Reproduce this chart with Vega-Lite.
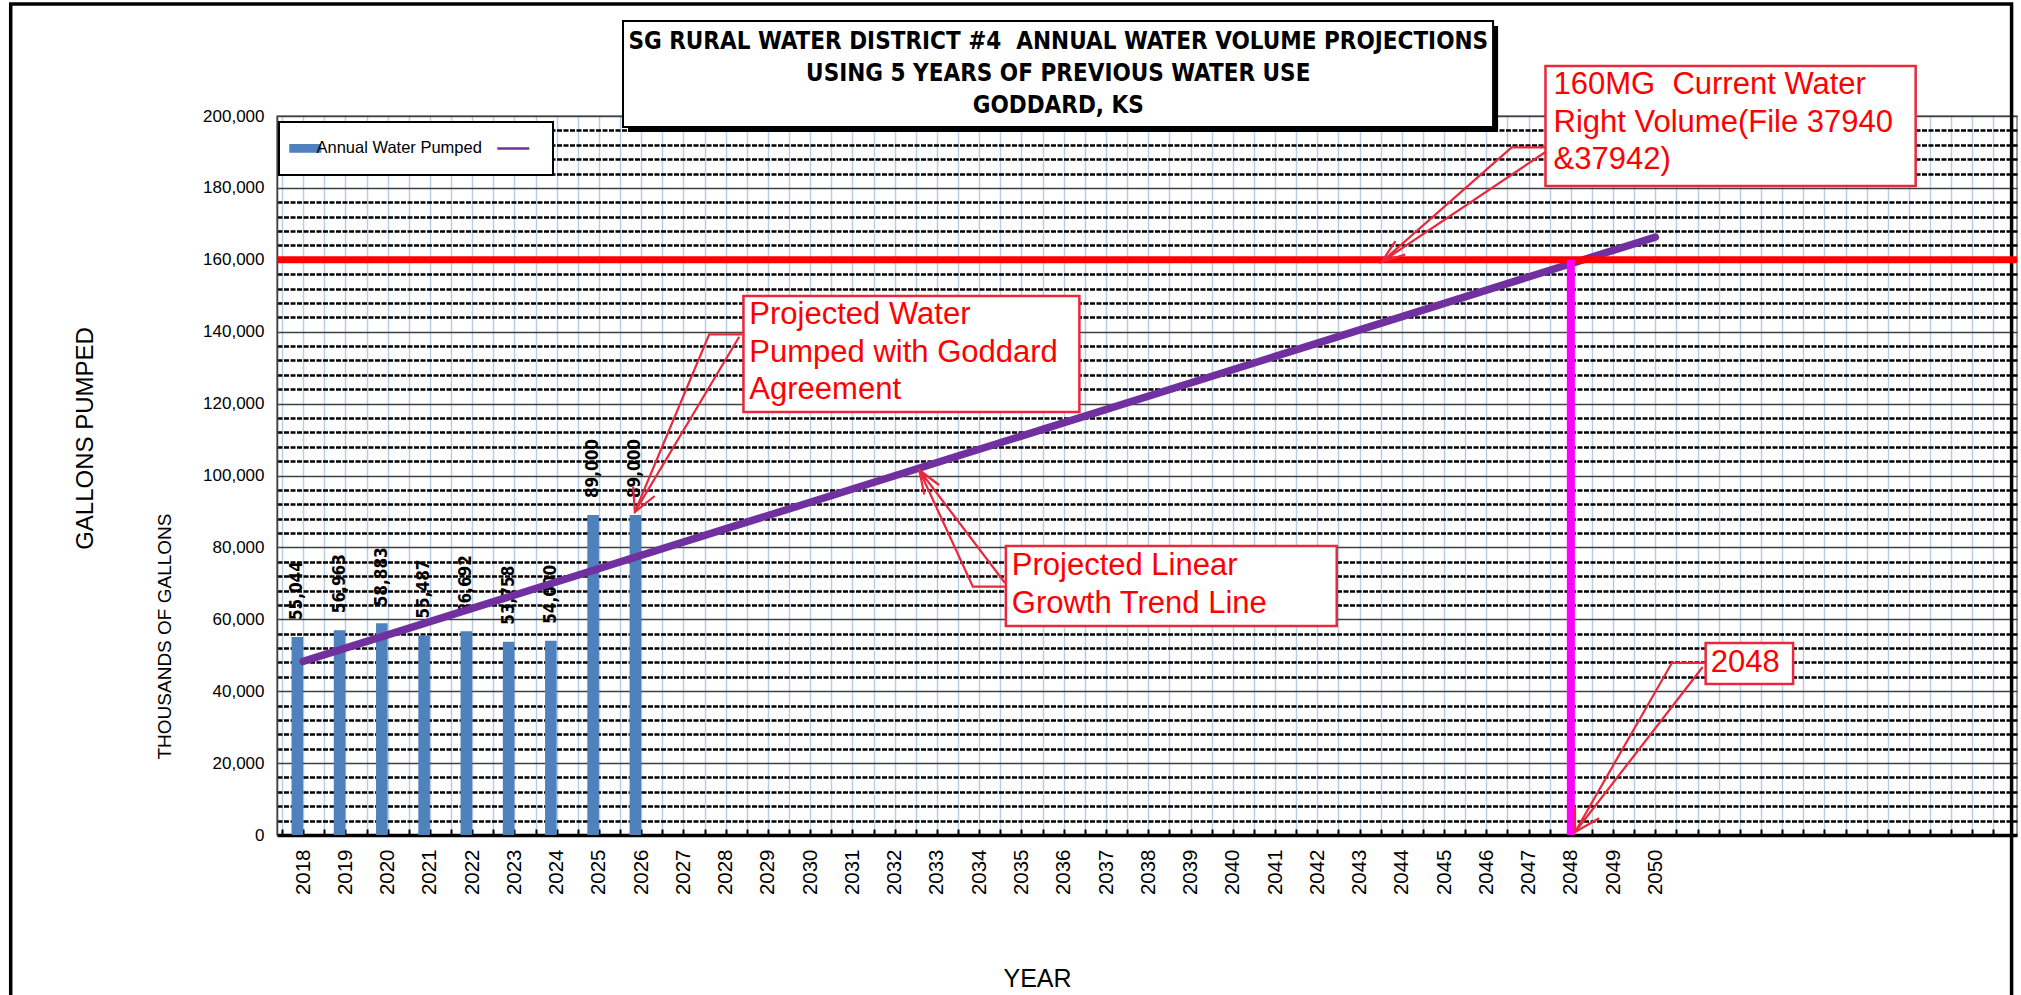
{
  "$schema": "https://vega.github.io/schema/vega-lite/v6.json",
  "width": 1740,
  "height": 719,
  "autosize": {"type": "none"},
  "padding": {"left": 277, "top": 116, "right": 4, "bottom": 160},
  "background": "white",
  "config": {"view": {"stroke": "#808080", "strokeWidth": 1.5}, "font": "Liberation Sans"},
  "datasets": {
    "bars": [
      {"year": 2018, "value": 55044, "series": "Annual Water Pumped"},
      {"year": 2019, "value": 56963, "series": "Annual Water Pumped"},
      {"year": 2020, "value": 58883, "series": "Annual Water Pumped"},
      {"year": 2021, "value": 55487, "series": "Annual Water Pumped"},
      {"year": 2022, "value": 56692, "series": "Annual Water Pumped"},
      {"year": 2023, "value": 53758, "series": "Annual Water Pumped"},
      {"year": 2024, "value": 54000, "series": "Annual Water Pumped"},
      {"year": 2025, "value": 89000, "series": "Annual Water Pumped"},
      {"year": 2026, "value": 89000, "series": "Annual Water Pumped"}
    ],
    "trend": [
      {"year": 2018, "value": 48300, "series": "Linear Growth Trend"},
      {"year": 2050, "value": 166300, "series": "Linear Growth Trend"}
    ],
    "limits": [{"name": "160MG current water right", "value": 160000}],
    "crossing": [{"year": 2048, "value": 160000}],
    "callouts": [
      {"id": "c1", "ord": 1, "year": 2047.40, "value": 191293},
      {"id": "c1", "ord": 2, "year": 2046.60, "value": 191293},
      {"id": "c1", "ord": 3, "year": 2043.52, "value": 159388},
      {"id": "c1", "ord": 4, "year": 2047.40, "value": 189986},
      {"id": "c1b", "ord": 1, "year": 2044.08, "value": 161474},
      {"id": "c1b", "ord": 2, "year": 2043.52, "value": 159388},
      {"id": "c1b", "ord": 3, "year": 2043.85, "value": 165174},
      {"id": "c2", "ord": 1, "year": 2028.39, "value": 139277},
      {"id": "c2", "ord": 2, "year": 2027.61, "value": 139277},
      {"id": "c2", "ord": 3, "year": 2025.85, "value": 89847},
      {"id": "c2", "ord": 4, "year": 2028.32, "value": 138609},
      {"id": "c2b", "ord": 1, "year": 2025.81, "value": 96884},
      {"id": "c2b", "ord": 2, "year": 2025.85, "value": 89847},
      {"id": "c2b", "ord": 3, "year": 2026.32, "value": 94298},
      {"id": "c3", "ord": 1, "year": 2034.61, "value": 69068},
      {"id": "c3", "ord": 2, "year": 2033.85, "value": 69068},
      {"id": "c3", "ord": 3, "year": 2032.58, "value": 101530},
      {"id": "c3", "ord": 4, "year": 2034.61, "value": 70097},
      {"id": "c3b", "ord": 1, "year": 2032.70, "value": 94715},
      {"id": "c3b", "ord": 2, "year": 2032.58, "value": 101530},
      {"id": "c3b", "ord": 3, "year": 2033.05, "value": 97357},
      {"id": "c4", "ord": 1, "year": 2051.19, "value": 47844},
      {"id": "c4", "ord": 2, "year": 2050.39, "value": 47844},
      {"id": "c4", "ord": 3, "year": 2048.10, "value": 834},
      {"id": "c4", "ord": 4, "year": 2051.12, "value": 46732},
      {"id": "c4b", "ord": 1, "year": 2048.10, "value": 7789},
      {"id": "c4b", "ord": 2, "year": 2048.10, "value": 834},
      {"id": "c4b", "ord": 3, "year": 2048.67, "value": 4645}
    ],
    "boxes": [
      {"id": "b1", "xs": 2047.40, "xe": 2056.16, "ys": 213908, "ye": 180528, "tx": 2047.59, "ty": 208623, "lines": ["160MG\u00a0 Current Water", "Right Volume(File 37940", "&37942)"]},
      {"id": "b2", "xs": 2028.42, "xe": 2036.37, "ys": 149930, "ye": 117663, "tx": 2028.56, "ty": 144645, "lines": ["Projected Water", "Pumped with Goddard", "Agreement"]},
      {"id": "b3", "xs": 2034.63, "xe": 2042.46, "ys": 80389, "ye": 58136, "tx": 2034.77, "ty": 74826, "lines": ["Projected Linear", "Growth Trend Line"]},
      {"id": "b4", "xs": 2051.19, "xe": 2053.26, "ys": 53407, "ye": 42003, "tx": 2051.31, "ty": 47844, "lines": ["2048"]}
    ],
    "titlebox": [
      {"xs": 2025.57, "xe": 2046.16, "ys": 226425, "ye": 196940, "tx": 2035.87, "ty": 220584, "lines": ["SG RURAL WATER DISTRICT #4\u00a0 ANNUAL WATER VOLUME PROJECTIONS", "USING 5 YEARS OF PREVIOUS WATER USE", "GODDARD, KS"]}
    ],
    "sidelabel": [{"year": 2012.86, "value": 110292, "text": "GALLONS PUMPED"}],
    "frame": [{"xs": 2011.08, "xe": 2058.43, "ys": 231154, "ye": -47288}]
  },
  "layer": [
    {
      "data": {"name": "frame"},
      "mark": {"type": "rect", "fill": "transparent", "stroke": "black", "strokeWidth": 3.5},
      "encoding": {
        "x": {"field": "xs", "type": "quantitative"},
        "x2": {"field": "xe"},
        "y": {"field": "ys", "type": "quantitative"},
        "y2": {"field": "ye"}
      }
    },
    {
      "data": {"name": "bars"},
      "mark": {"type": "bar", "orient": "vertical", "width": 11.6, "xOffset": -5.8},
      "encoding": {
        "x": {
          "field": "year", "type": "quantitative",
          "scale": {"domain": [2017.5, 2058.44], "nice": false, "zero": false},
          "axis": {
            "title": "YEAR", "titleFont": "Liberation Sans", "titleFontSize": 25, "titleFontWeight": "normal", "titleColor": "black",
            "titleX": 760, "titleY": 151, "titleAlign": "center", "titleBaseline": "alphabetic",
            "tickCount": 500,
            "values": [2017.5,2018,2018.5,2019,2019.5,2020,2020.5,2021,2021.5,2022,2022.5,2023,2023.5,2024,2024.5,2025,2025.5,2026,2026.5,2027,2027.5,2028,2028.5,2029,2029.5,2030,2030.5,2031,2031.5,2032,2032.5,2033,2033.5,2034,2034.5,2035,2035.5,2036,2036.5,2037,2037.5,2038,2038.5,2039,2039.5,2040,2040.5,2041,2041.5,2042,2042.5,2043,2043.5,2044,2044.5,2045,2045.5,2046,2046.5,2047,2047.5,2048,2048.5,2049,2049.5,2050,2050.5,2051,2051.5,2052,2052.5,2053,2053.5,2054,2054.5,2055,2055.5,2056,2056.5,2057,2057.5,2058],
            "labelExpr": "(datum.value % 1 === 0 && datum.value <= 2050) ? '' + datum.value : ''",
            "labelAngle": 270, "labelFontSize": 20.5, "labelColor": "black", "labelPadding": 20,
            "labelOverlap": false, "labelFlush": false, "labelBound": false,
            "grid": true, "gridColor": "#B9CDE5", "gridWidth": 1.5,
            "ticks": true, "tickSize": -6, "tickColor": "black", "tickWidth": 2,
            "domainColor": "black", "domainWidth": 3.5
          }
        },
        "y": {
          "field": "value", "type": "quantitative",
          "scale": {"domain": [0, 200000], "nice": false},
          "axis": {
            "title": "THOUSANDS OF GALLONS", "titleFont": "Liberation Sans", "titleFontSize": 19, "titleFontWeight": "normal", "titleColor": "black",
            "titleAngle": 270, "titleX": -113, "titleY": 520, "titleAlign": "center", "titleBaseline": "middle",
            "tickCount": 500,
            "values": [0,4000,8000,12000,16000,20000,24000,28000,32000,36000,40000,44000,48000,52000,56000,60000,64000,68000,72000,76000,80000,84000,88000,92000,96000,100000,104000,108000,112000,116000,120000,124000,128000,132000,136000,140000,144000,148000,152000,156000,160000,164000,168000,172000,176000,180000,184000,188000,192000,196000,200000],
            "labelExpr": "datum.value % 20000 === 0 ? format(datum.value, ',') : ''",
            "labelFontSize": 17, "labelColor": "black", "labelPadding": 13, "labelOverlap": false,
            "ticks": false,
            "grid": true,
            "gridColor": {"condition": {"test": "datum.value % 20000 === 0", "value": "#404040"}, "value": "black"},
            "gridDash": {"condition": {"test": "datum.value % 20000 === 0", "value": []}, "value": [5, 1.5]},
            "gridWidth": {"condition": {"test": "datum.value % 20000 === 0", "value": 1.5}, "value": 2.5},
            "domainColor": "#404040", "domainWidth": 1.5
          }
        },
        "color": {
          "field": "series", "type": "nominal",
          "scale": {"domain": ["Annual Water Pumped", "Linear Growth Trend"], "range": ["#4F81BD", "#7030A0"]},
          "legend": {
            "orient": "none", "legendX": 2, "legendY": 6, "direction": "horizontal", "title": null,
            "fillColor": "white", "strokeColor": "black", "padding": 18,
            "labelFontSize": 16.5, "labelColor": "black", "labelFont": "Liberation Sans", "labelLimit": 400,
            "symbolSize": 1024, "columnPadding": 10, "labelOffset": 3,
            "labelExpr": "datum.value === 'Linear Growth Trend' ? '' : datum.label",
            "encode": {
              "legend": {"update": {"strokeWidth": {"value": 2}}},
              "symbols": {
                "update": {
                  "shape": {"signal": "datum.value === 'Linear Growth Trend' ? 'stroke' : 'M-1,-0.28L1,-0.28L1,0.28L-1,0.28Z'"},
                  "strokeWidth": {"signal": "datum.value === 'Linear Growth Trend' ? 2.5 : 0"},
                  "stroke": {"signal": "datum.value === 'Linear Growth Trend' ? '#7030A0' : '#4F81BD'"},
                  "fill": {"signal": "datum.value === 'Linear Growth Trend' ? 'transparent' : '#4F81BD'"}
                }
              }
            }
          }
        }
      }
    },
    {
      "data": {"name": "bars"},
      "mark": {"type": "text", "angle": 270, "align": "left", "baseline": "middle", "dx": 17, "xOffset": -5.8, "font": "DejaVu Sans Condensed, sans-serif", "fontSize": 17, "fontWeight": "bold", "color": "black"},
      "encoding": {
        "x": {"field": "year", "type": "quantitative"},
        "y": {"field": "value", "type": "quantitative"},
        "text": {"field": "value", "type": "quantitative", "format": ","}
      }
    },
    {
      "data": {"name": "trend"},
      "mark": {"type": "line", "strokeWidth": 7.5, "strokeCap": "round"},
      "encoding": {
        "x": {"field": "year", "type": "quantitative"},
        "y": {"field": "value", "type": "quantitative"},
        "color": {"field": "series", "type": "nominal"}
      }
    },
    {
      "data": {"name": "limits"},
      "mark": {"type": "rule", "color": "#FF0000", "strokeWidth": 7},
      "encoding": {"y": {"field": "value", "type": "quantitative"}}
    },
    {
      "data": {"name": "crossing"},
      "mark": {"type": "rule", "color": "#FF00FF", "strokeWidth": 8},
      "encoding": {
        "x": {"field": "year", "type": "quantitative"},
        "y": {"field": "value", "type": "quantitative"},
        "y2": {"datum": 0}
      }
    },
    {
      "data": {"name": "callouts"},
      "mark": {"type": "line", "color": "#E8283C", "strokeWidth": 2.2},
      "encoding": {
        "x": {"field": "year", "type": "quantitative"},
        "y": {"field": "value", "type": "quantitative"},
        "detail": {"field": "id", "type": "nominal"},
        "order": {"field": "ord", "type": "quantitative"}
      }
    },
    {
      "data": {"name": "boxes"},
      "mark": {"type": "rect", "fill": "white", "stroke": "#E8283C", "strokeWidth": 2.5},
      "encoding": {
        "x": {"field": "xs", "type": "quantitative"},
        "x2": {"field": "xe"},
        "y": {"field": "ys", "type": "quantitative"},
        "y2": {"field": "ye"}
      }
    },
    {
      "data": {"name": "boxes"},
      "mark": {"type": "text", "align": "left", "baseline": "middle", "fontSize": 31, "lineHeight": 37.5, "color": "#FF0000", "font": "Liberation Sans"},
      "encoding": {
        "x": {"field": "tx", "type": "quantitative"},
        "y": {"field": "ty", "type": "quantitative"},
        "text": {"field": "lines"}
      }
    },
    {
      "data": {"name": "titlebox"},
      "mark": {"type": "rect", "fill": "black", "xOffset": 5, "x2Offset": 5, "yOffset": 5, "y2Offset": 5},
      "encoding": {
        "x": {"field": "xs", "type": "quantitative"},
        "x2": {"field": "xe"},
        "y": {"field": "ys", "type": "quantitative"},
        "y2": {"field": "ye"}
      }
    },
    {
      "data": {"name": "titlebox"},
      "mark": {"type": "rect", "fill": "white", "stroke": "black", "strokeWidth": 2},
      "encoding": {
        "x": {"field": "xs", "type": "quantitative"},
        "x2": {"field": "xe"},
        "y": {"field": "ys", "type": "quantitative"},
        "y2": {"field": "ye"}
      }
    },
    {
      "data": {"name": "titlebox"},
      "mark": {"type": "text", "align": "center", "baseline": "middle", "fontSize": 24, "fontWeight": "bold", "lineHeight": 32, "color": "black", "font": "DejaVu Sans Condensed, sans-serif"},
      "encoding": {
        "x": {"field": "tx", "type": "quantitative"},
        "y": {"field": "ty", "type": "quantitative"},
        "text": {"field": "lines"}
      }
    },
    {
      "data": {"name": "sidelabel"},
      "mark": {"type": "text", "align": "center", "baseline": "middle", "angle": 270, "fontSize": 24, "color": "black", "font": "Liberation Sans"},
      "encoding": {
        "x": {"field": "year", "type": "quantitative"},
        "y": {"field": "value", "type": "quantitative"},
        "text": {"field": "text"}
      }
    }
  ]
}
